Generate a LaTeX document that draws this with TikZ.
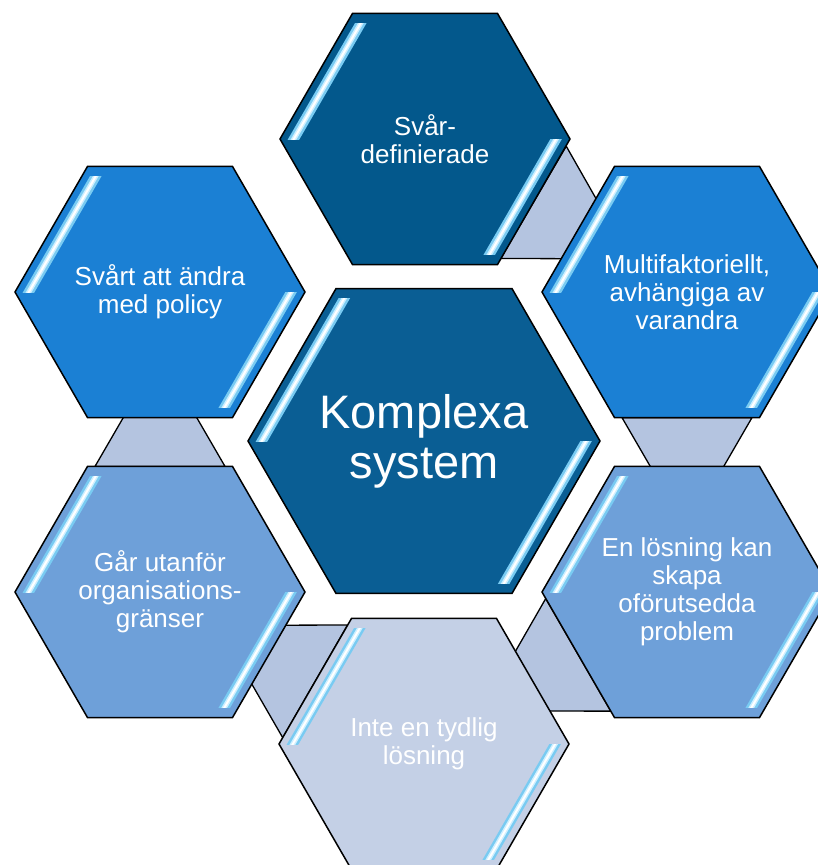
\documentclass[tikz,border=0pt]{standalone}
\usepackage{fontspec}
\setmainfont{Liberation Sans}
\usetikzlibrary{calc}
\definecolor{hexTop}{HTML}{03588C}
\definecolor{hexMid}{HTML}{0A5E94}
\definecolor{hexBright}{HTML}{1B80D4}
\definecolor{hexSoft}{HTML}{6EA0D9}
\definecolor{hexPale}{HTML}{C4D0E6}
\definecolor{connC}{HTML}{B4C4E0}
\definecolor{stripOut}{HTML}{79CBF2}
\definecolor{stripIn}{HTML}{CDEFFF}
\tikzset{
  hexlabel/.style={text=white, align=center, inner sep=0pt, font=\fontsize{26}{28}\selectfont},
  biglabel/.style={text=white, align=center, inner sep=0pt, font=\fontsize{47}{50}\selectfont},
  hexedge/.style={draw=black, line width=1.5pt, line join=miter},
  connshape/.style={fill=connC, draw=black, line width=1.3pt, line join=miter},
  stripA/.style={line width=10pt, stripOut, line cap=butt},
  stripB/.style={line width=5pt, stripIn, line cap=butt},
  stripC/.style={line width=2pt, white, line cap=butt},
}
% hexagon outline path: #1 centre, #2 circumradius
\newcommand\hexpath[2]{($(#1)+(-#2,0)$) -- ($(#1)+(-0.5*#2,-0.866*#2)$) -- ($(#1)+(0.5*#2,-0.866*#2)$) -- ($(#1)+(#2,0)$) -- ($(#1)+(0.5*#2,0.866*#2)$) -- ($(#1)+(-0.5*#2,0.866*#2)$) -- cycle}
% one filled hexagon with its two glossy strips
\newcommand\glosshex[3]{%
  \fill[#3] \hexpath{#1}{#2};
  \begin{scope}
    \clip ($(#1)+(-#2,-0.866*#2+10)$) rectangle ($(#1)+(0,0)$);
    \foreach \s in {stripA,stripB,stripC}
      \draw[\s] ($(#1)+(-#2+0.39,23.32)$) -- ($(#1)+(-0.5*#2+20.39,-0.866*#2-11.32)$);
  \end{scope}
  \begin{scope}
    \clip ($(#1)+(0,0)$) rectangle ($(#1)+(#2,0.866*#2-10)$);
    \foreach \s in {stripA,stripB,stripC}
      \draw[\s] ($(#1)+(#2-0.39,-23.32)$) -- ($(#1)+(0.5*#2-20.39,0.866*#2+11.32)$);
  \end{scope}
  \draw[hexedge] \hexpath{#1}{#2};
}
% connector between neighbouring hexagons #1 -> #2
\newcommand\hexconn[2]{%
  \coordinate (cm) at ($(#1)!125.6pt!(#2)$);
  \coordinate (cn) at ($(#1)!186pt!(#2)$);
  \draw[connshape] ($(cm)!65pt!90:(#2)$) -- ($(cn)!30pt!90:(#2)$) -- ($(cn)!30pt!-90:(#2)$) -- ($(cm)!65pt!-90:(#2)$) -- cycle;
}
\begin{document}
\begin{tikzpicture}[x=1pt,y=-1pt]
\useasboundingbox (0,0) rectangle (818,865);
\clip (0,0) rectangle (818,865);
\fill[white] (0,0) rectangle (818,865);
\coordinate (C) at (424,441);
\coordinate (T) at (425,139);
\coordinate (M) at (687,292);
\coordinate (E) at (687,592);
\coordinate (I) at (424,744);
\coordinate (G) at (160,592);
\coordinate (S) at (160,292);
% connectors (behind)
\hexconn{T}{M}
\hexconn{M}{E}
\hexconn{E}{I}
\hexconn{I}{G}
\hexconn{G}{S}
% hexagons
\glosshex{T}{145}{hexTop}
\glosshex{M}{145}{hexBright}
\glosshex{E}{145}{hexSoft}
\glosshex{I}{145}{hexPale}
\glosshex{G}{145}{hexSoft}
\glosshex{S}{145}{hexBright}
\glosshex{C}{176}{hexMid}
% labels
\node[biglabel] (tC) at (C) {Komplexa\\system};
\node[hexlabel] (tT) at (T) {Svår-\\definierade};
\node[hexlabel] (tM) at (M) {Multifaktoriellt,\\avhängiga av\\varandra};
\node[hexlabel] (tE) at (E) {En lösning kan\\skapa\\oförutsedda\\problem};
\node[hexlabel] (tI) at (I) {Inte en tydlig\\lösning};
\node[hexlabel] (tG) at (G) {Går utanför\\organisations-\\gränser};
\node[hexlabel] (tS) at (S) {Svårt att ändra\\med policy};
\end{tikzpicture}
\end{document}
